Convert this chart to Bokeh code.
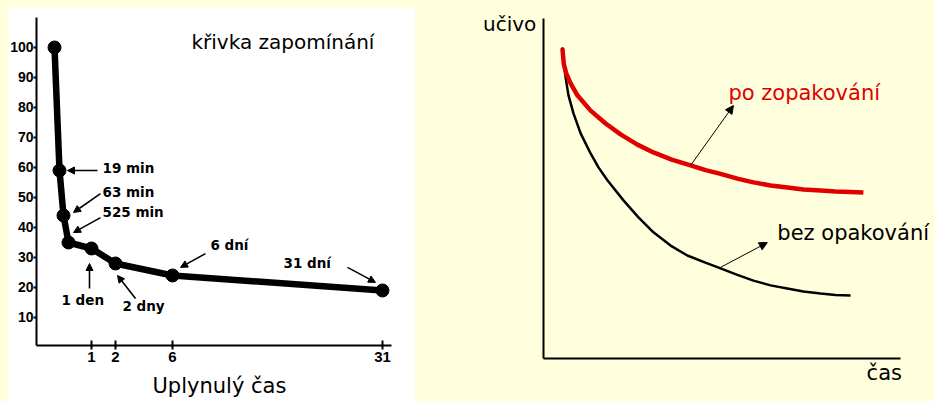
import numpy as np
from bokeh.plotting import figure
from bokeh.models import Range1d, FixedTicker, Label, Arrow, NormalHead, Spacer
from bokeh.layouts import row, column
from bokeh.embed import file_html
from bokeh.resources import INLINE

# ---------------- Left chart: Ebbinghaus "křivka zapomínání" ----------------
point_names = ["0", "19 min", "63 min", "525 min", "1 den", "2 dny", "6 dní", "31 dní"]
elapsed_days = [0, 19 / 1440, 63 / 1440, 525 / 1440, 1, 2, 6, 31]
retention = [100, 59, 44, 35, 33, 28, 24, 19]
x_tick_days = [1, 2, 6, 31]
x_tick_labels = ["1", "2", "6", "31"]
y_ticks = [10, 20, 30, 40, 50, 60, 70, 80, 90, 100]

# the original's time axis is hand drawn (non-linear): anchor days -> axis position
axis_anchor_days = [0, 19 / 1440, 63 / 1440, 525 / 1440, 1, 2, 6, 31]
axis_anchor_pos = [18, 23, 27, 32, 55, 79, 136, 346]


def warp(d):
    return float(np.interp(d, axis_anchor_days, axis_anchor_pos))


# ---------------- Right chart: schematic curves ----------------
red_time = [0.53, 0.55, 0.57, 0.64, 0.76, 0.95, 1.32, 1.74, 2.16, 2.63, 3.08, 3.59,
            4.12, 4.54, 4.96, 5.43, 5.88, 6.36, 6.83, 7.28, 7.76, 8.18, 8.60, 8.96]
red_value = [9.12, 8.88, 8.65, 8.38, 8.09, 7.74, 7.29, 6.91, 6.59, 6.29, 6.06, 5.85,
             5.68, 5.54, 5.43, 5.29, 5.18, 5.09, 5.03, 4.97, 4.94, 4.91, 4.90, 4.88]
black_time = [0.53, 0.56, 0.62, 0.70, 0.84, 1.04, 1.32, 1.54, 1.79, 2.24, 2.66, 3.08,
              3.56, 4.03, 4.48, 4.96, 5.43, 5.88, 6.36, 6.83, 7.28, 7.76, 8.18, 8.60]
black_value = [9.15, 8.76, 8.26, 7.74, 7.21, 6.62, 6.03, 5.62, 5.24, 4.65, 4.15, 3.71,
               3.32, 3.03, 2.84, 2.65, 2.46, 2.29, 2.15, 2.06, 1.97, 1.91, 1.87, 1.85]

BG = "#FFFFDE"
FONT = "DejaVu Sans"

# ======================= left figure =======================
left = figure(width=407, height=394, x_range=Range1d(-28, 379), y_range=Range1d(-18, 113.33),
              output_backend="svg", toolbar_location=None, min_border=0,
              min_border_left=0, min_border_right=0, min_border_top=0, min_border_bottom=0,
              background_fill_color="white", border_fill_color="white", outline_line_color=None)
left.grid.visible = False

xs = [warp(d) for d in elapsed_days]
left.line(xs, retention, line_width=6.5, line_color="black", line_join="round")
left.scatter(xs, retention, size=13, fill_color="black", line_color="black")

tick_pos = [warp(d) for d in x_tick_days]
left.xaxis.ticker = FixedTicker(ticks=tick_pos)
left.xaxis.major_label_overrides = {p: l for p, l in zip(tick_pos, x_tick_labels)}
left.xaxis.fixed_location = 0.67
left.xaxis.bounds = (0, 355)
left.yaxis.ticker = FixedTicker(ticks=y_ticks)
left.yaxis.fixed_location = 0
left.yaxis.bounds = (0.67, 110)
for ax in (left.xaxis[0], left.yaxis[0]):
    ax.axis_line_width = 2
    ax.axis_line_color = "black"
    ax.major_tick_line_width = 2
    ax.major_tick_line_color = "black"
    ax.minor_tick_line_color = None
    ax.major_label_text_font = "Liberation Sans"
    ax.major_label_text_font_style = "bold"
    ax.major_label_text_color = "black"
left.yaxis.major_label_text_font_size = "14px"
left.xaxis.major_label_text_font_size = "15px"
left.yaxis.major_tick_in = 0
left.yaxis.major_tick_out = 3
left.yaxis.major_label_standoff = 0
left.xaxis.major_tick_in = 5
left.xaxis.major_tick_out = 4
left.xaxis.major_label_standoff = 3

left.add_layout(Label(x=155, y=101.7, text="křivka zapomínání", text_font=FONT,
                      text_font_size="20px", text_baseline="alphabetic", text_color="black"))
left.add_layout(Label(x=116, y=-13, text="Uplynulý čas", text_font=FONT,
                      text_font_size="21px", text_baseline="alphabetic", text_color="black"))

# annotation labels: (name, label x, label y, arrow start, arrow end)
annotations = [
    ("19 min", 66, 59.7, (61, 59), (31, 59)),
    ("63 min", 66, 51.7, (64, 51.3), (37, 45)),
    ("525 min", 66, 45.3, (64, 43.3), (37, 38.3)),
    ("1 den", 25, 15.7, (53, 19.7), (53, 28)),
    ("2 dny", 86, 13.8, (99, 16.3), (81, 24)),
    ("6 dní", 174, 34, (169, 31.3), (144, 26.7)),
    ("31 dní", 247, 28, (311, 26.7), (339, 21.7)),
]
for text, lx, ly, (x0, y0), (x1, y1) in annotations:
    left.add_layout(Label(x=lx, y=ly, text=text, text_font=FONT, text_font_style="bold",
                          text_font_size="13.5px", text_baseline="middle", text_align="left",
                          text_color="black"))
    left.add_layout(Arrow(x_start=x0, y_start=y0, x_end=x1, y_end=y1, line_width=1.6,
                          line_color="black",
                          end=NormalHead(size=7, fill_color="black", line_color="black",
                                         line_width=1)))

# ======================= right figure =======================
right = figure(width=520, height=401, x_range=Range1d(-3.585, 10.98), y_range=Range1d(-1.265, 10.529),
               output_backend="svg", toolbar_location=None, min_border=0,
               min_border_left=0, min_border_right=0, min_border_top=0, min_border_bottom=0,
               background_fill_color=BG, border_fill_color=BG, outline_line_color=None)
right.grid.visible = False
for ax in (right.xaxis[0], right.yaxis[0]):
    ax.ticker = FixedTicker(ticks=[])
    ax.major_tick_in = 0
    ax.major_tick_out = 0
    ax.minor_tick_line_color = None
    ax.major_label_text_font_size = "0px"
    ax.axis_line_width = 2
    ax.axis_line_color = "black"
    ax.fixed_location = 0
    ax.bounds = (0, 10)

right.line(black_time, black_value, line_width=2.5, line_color="black", line_join="round")
right.line(red_time, red_value, line_width=4.5, line_color="#E00000", line_join="round")

right.add_layout(Label(x=-0.2, y=9.85, text="učivo", text_font=FONT, text_font_size="20px",
                       text_align="right", text_baseline="alphabetic", text_color="black"))
right.add_layout(Label(x=9.05, y=-0.44, text="čas", text_font=FONT, text_font_size="21px",
                       text_align="left", text_baseline="alphabetic", text_color="black"))
right.add_layout(Label(x=5.18, y=7.82, text="po zopakování", text_font=FONT,
                       text_font_size="21px", text_align="left", text_baseline="alphabetic",
                       text_color="#E00000"))
right.add_layout(Label(x=6.55, y=3.68, text="bez opakování", text_font=FONT,
                       text_font_size="21px", text_align="left", text_baseline="alphabetic",
                       text_color="black"))
right.add_layout(Arrow(x_start=4.12, y_start=5.68, x_end=5.32, y_end=7.44, line_width=1,
                       line_color="black",
                       end=NormalHead(size=8, fill_color="black", line_color="black", line_width=1)))
right.add_layout(Arrow(x_start=4.96, y_start=2.68, x_end=6.27, y_end=3.41, line_width=1,
                       line_color="black",
                       end=NormalHead(size=8, fill_color="black", line_color="black", line_width=1)))

layout = row(Spacer(width=8, height=401),
             column(Spacer(width=407, height=7), left),
             right, styles={"background-color": BG})

open("out.html", "w").write(file_html(layout, INLINE))
